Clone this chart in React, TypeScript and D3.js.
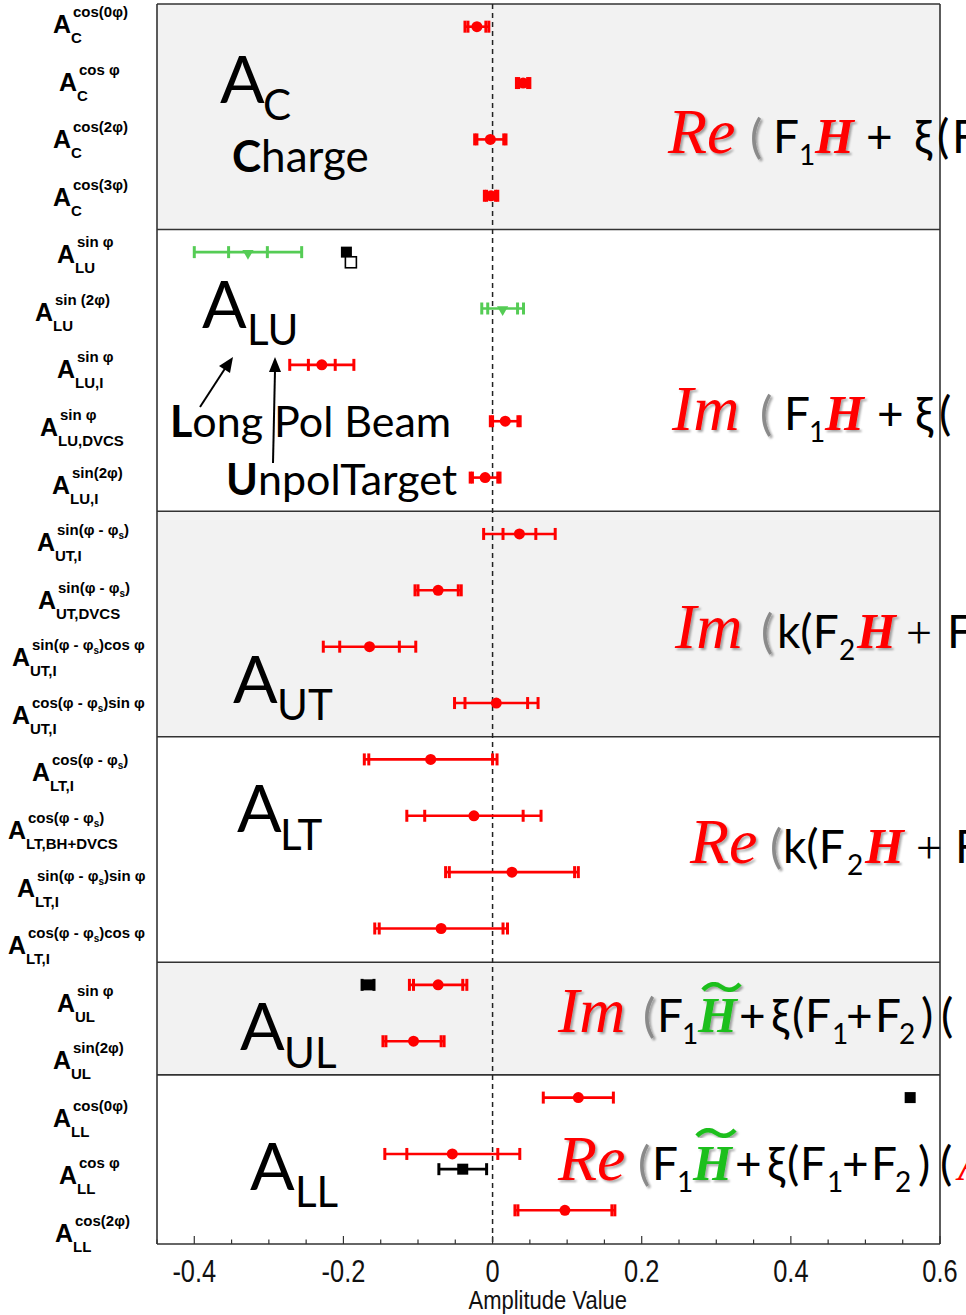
import React from 'react';
import * as d3 from 'd3';

// ---------- data ----------
const rowSup = [
  'cos(0φ)', 'cos φ', 'cos(2φ)', 'cos(3φ)',
  'sin φ', 'sin (2φ)', 'sin φ', 'sin φ', 'sin(2φ)',
  'sin(φ - φ_s)', 'sin(φ - φ_s)', 'sin(φ - φ_s)cos φ', 'cos(φ - φ_s)sin φ',
  'cos(φ - φ_s)', 'cos(φ - φ_s)', 'sin(φ - φ_s)sin φ', 'cos(φ - φ_s)cos φ',
  'sin φ', 'sin(2φ)',
  'cos(0φ)', 'cos φ', 'cos(2φ)',
];
const rowSub = [
  'C', 'C', 'C', 'C',
  'LU', 'LU', 'LU,I', 'LU,DVCS', 'LU,I',
  'UT,I', 'UT,DVCS', 'UT,I', 'UT,I',
  'LT,I', 'LT,BH+DVCS', 'LT,I', 'LT,I',
  'UL', 'UL',
  'LL', 'LL', 'LL',
];

const redRows = [0, 1, 2, 3, 6, 7, 8, 9, 10, 11, 12, 13, 14, 15, 16, 17, 18, 19, 20, 21];
const redValues = [-0.021, 0.041, -0.003, -0.002, -0.229, 0.017, -0.010, 0.036, -0.073, -0.165, 0.005, -0.083, -0.025, 0.026, -0.069, -0.073, -0.106, 0.115, -0.054, 0.097];
const redStat = [0.012, 0.006, 0.018, 0.006, 0.018, 0.017, 0.017, 0.022, 0.027, 0.040, 0.042, 0.083, 0.066, 0.084, 0.083, 0.033, 0.037, 0.047, 0.061, 0.063];
const redTotal = [0.016, 0.009, 0.021, 0.009, 0.043, 0.020, 0.020, 0.048, 0.031, 0.062, 0.056, 0.089, 0.090, 0.089, 0.089, 0.0385, 0.041, 0.047, 0.0905, 0.067];

const greenRows = [4, 5];
const greenValues = [-0.328, 0.0135];
const greenStat = [0.026, 0.020];
const greenTotal = [0.072, 0.028];

const blackRows = [4, 4.18, 17, 19, 20.27];
const blackValues = [-0.196, -0.19, -0.167, 0.56, -0.040];
const blackErr = [0, 0, 0.008, 0, 0.032];
const blackFilled = [true, false, true, true, true];

const xTicksMajor = [-0.4, -0.2, 0, 0.2, 0.4, 0.6];
const xTickLabels = ['-0.4', '-0.2', '0', '0.2', '0.4', '0.6'];

const panelEdges = [-0.5, 3.5, 8.5, 12.5, 16.5, 18.5, 21.5];
const panelShaded = [true, false, true, false, true, false];

// ---------- layout ----------
const W = 966, H = 1315;
const FL = 157, FR = 940, FT = 4, FB = 1244;
const labelAX = [53, 59, 53, 53, 57, 35, 57, 40, 52, 37, 38, 12, 12, 32, 8, 17, 8, 57, 53, 53, 59, 55];

const RED = '#ff0000';
const GREEN = '#55cc55';
const SANS = "Lato, 'Open Sans', sans-serif";
const SERIF = "'Liberation Serif', 'DejaVu Serif', serif";
const LAB = "'Liberation Sans', Arial, sans-serif";

type Piece = [string, string, number];
const formulas: { y: number; pieces: Piece[]; tilde?: [number, number, number] }[] = [
  { y: 153, pieces: [['script', 'Re', 668], ['paren', '(', 750], ['sans', 'F', 773], ['sub', '1', 799], ['H', 'H', 815], ['sans', '+', 866], ['sans', 'ξ', 914], ['sans', '(', 937], ['sans', 'F', 952]] },
  { y: 430, pieces: [['script', 'Im', 672], ['paren', '(', 760], ['sans', 'F', 784], ['sub', '1', 809], ['H', 'H', 825], ['sans', '+', 877], ['sans', 'ξ', 915], ['sans', '(', 939]] },
  { y: 648, pieces: [['script', 'Im', 675], ['paren', '(', 761], ['sans', 'k(F', 777], ['sub', '2', 839], ['H', 'H', 857], ['thin', '+', 906], ['sans', 'F', 947]] },
  { y: 863, pieces: [['script', 'Re', 690], ['paren', '(', 770], ['sans', 'k(F', 783], ['sub', '2', 847], ['H', 'H', 865], ['thin', '+', 916], ['sans', 'F', 955]] },
  { y: 1032, tilde: [703, 740, 987], pieces: [['script', 'Im', 558], ['paren', '(', 643], ['sans', 'F', 657], ['sub', '1', 682], ['Hg', 'H', 698], ['sans', '+', 739], ['sans', 'ξ', 771], ['sans', '(', 792], ['sans', 'F', 805], ['sub', '1', 832], ['sans', '+', 846], ['sans', 'F', 875], ['sub', '2', 899], ['sans', ')', 921], ['sans', '(', 941]] },
  { y: 1180, tilde: [697, 735, 1133], pieces: [['script', 'Re', 558], ['paren', '(', 638], ['sans', 'F', 652], ['sub', '1', 677], ['Hg', 'H', 693], ['sans', '+', 735], ['sans', 'ξ', 767], ['sans', '(', 787], ['sans', 'F', 800], ['sub', '1', 827], ['sans', '+', 842], ['sans', 'F', 871], ['sub', '2', 895], ['sans', ')', 918], ['sans', '(', 940], ['red', 'A', 958]] },
];

function pieceStyle(kind: string): any {
  switch (kind) {
    case 'script': return { fontFamily: SERIF, fontStyle: 'italic', fontSize: 64, fill: RED, filter: 'url(#sh)' };
    case 'paren': return { fontFamily: SANS, fontSize: 46, fill: '#8a8a8a', filter: 'url(#sh)' };
    case 'sans': return { fontFamily: SANS, fontSize: 46, fill: '#000' };
    case 'thin': return { fontFamily: SERIF, fontSize: 46, fill: '#000' };
    case 'sub': return { fontFamily: SANS, fontSize: 28, fill: '#000' };
    case 'H': return { fontFamily: SERIF, fontStyle: 'italic', fontWeight: 'bold', fontSize: 50, fill: RED, filter: 'url(#sh)' };
    case 'Hg': return { fontFamily: SERIF, fontStyle: 'italic', fontWeight: 'bold', fontSize: 50, fill: '#1fbf1f', filter: 'url(#sh)' };
    case 'red': return { fontFamily: SERIF, fontStyle: 'italic', fontSize: 46, fill: RED };
    default: return {};
  }
}

function SupText({ s }: { s: string }) {
  const parts = s.split('_s');
  const out: any[] = [];
  parts.forEach((p, i) => {
    out.push(<tspan key={'p' + i} dy={i > 0 ? -4 : 0}>{p}</tspan>);
    if (i < parts.length - 1) out.push(<tspan key={'s' + i} dy={4} fontSize={10}>s</tspan>);
  });
  return <>{out}</>;
}

function ErrBar({ x, v, stat, tot, cy, color }: any) {
  const caps = [v - tot, v + tot];
  if (stat > 0 && stat < tot) caps.push(v - stat, v + stat);
  return (
    <g stroke={color} strokeWidth={2.6}>
      <line x1={x(v - tot)} x2={x(v + tot)} y1={cy} y2={cy} />
      {caps.map((c, i) => (
        <line key={i} x1={x(c)} x2={x(c)} y1={cy - 6} y2={cy + 6} strokeWidth={3} />
      ))}
    </g>
  );
}

export default function App() {
  const x = d3.scaleLinear().domain([-0.45, 0.6]).range([FL, FR]);
  const y = d3.scaleLinear().domain([-0.5, 21.5]).range([FT, FB]);
  const shift = -5.5;
  const my = (r: number) => y(r) + shift;
  const labY = d3.scaleLinear().domain([0, 21]).range([33, 1242]);
  const minor = d3.range(-0.45, 0.6001, 0.05).filter(t => !xTicksMajor.some(m => Math.abs(m - t) < 1e-6));

  const bigLabels = [
    { a: 'A', s: 'C', ax: 220, ay: 103, sx: 263, sy: 120 },
    { a: 'A', s: 'LU', ax: 202, ay: 328, sx: 247, sy: 345 },
    { a: 'A', s: 'UT', ax: 233, ay: 703, sx: 277, sy: 720 },
    { a: 'A', s: 'LT', ax: 237, ay: 832, sx: 280, sy: 850 },
    { a: 'A', s: 'UL', ax: 240, ay: 1050, sx: 284, sy: 1068 },
    { a: 'A', s: 'LL', ax: 250, ay: 1190, sx: 295, sy: 1207 },
  ];

  return (
    <svg width={W} height={H} style={{ position: 'absolute', left: 0, top: 0, display: 'block', background: '#fff' }}>
      <defs>
        <filter id="sh" x="-20%" y="-20%" width="150%" height="150%">
          <feDropShadow dx="2" dy="2" stdDeviation="1.3" floodColor="#000" floodOpacity="0.35" />
        </filter>
      </defs>
      {/* panels */}
      {panelShaded.map((s, i) => (
        <rect key={i} x={FL} y={y(panelEdges[i])} width={FR - FL} height={y(panelEdges[i + 1]) - y(panelEdges[i])} fill={s ? '#f2f2f2' : '#fff'} />
      ))}
      {panelEdges.map((e, i) => (
        <line key={'pe' + i} x1={FL} x2={FR} y1={y(e)} y2={y(e)} stroke="#333" strokeWidth={1.6} />
      ))}
      <line x1={FL} x2={FL} y1={FT} y2={FB} stroke="#333" strokeWidth={1.6} />
      <line x1={FR} x2={FR} y1={FT} y2={FB} stroke="#333" strokeWidth={1.6} />

      {/* zero line */}
      <line x1={x(0)} x2={x(0)} y1={FT} y2={FB} stroke="#222" strokeWidth={1.5} strokeDasharray="5,4" />

      {/* ticks */}
      {xTicksMajor.map((t, i) => (
        <g key={'t' + i}>
          <line x1={x(t)} x2={x(t)} y1={FB} y2={FB - 8} stroke="#333" strokeWidth={1.2} />
          <text transform={`translate(${x(t)},${FB + 38}) scale(0.82,1)`} textAnchor="middle" fontFamily={LAB} fontSize={31} fill="#111">{xTickLabels[i]}</text>
        </g>
      ))}
      {minor.map((t, i) => (
        <line key={'m' + i} x1={x(t)} x2={x(t)} y1={FB} y2={FB - 4.5} stroke="#333" strokeWidth={1.2} />
      ))}
      <text transform={`translate(${x(0.074)},${FB + 65}) scale(0.88,1)`} textAnchor="middle" fontFamily={LAB} fontSize={25} fill="#111">Amplitude Value</text>

      {/* row labels */}
      {rowSub.map((sub, i) => (
        <g key={'l' + i} fontFamily={LAB} fontWeight="bold" fill="#000">
          <text x={labelAX[i]} y={labY(i)} fontSize={25}>A</text>
          <text x={labelAX[i] + 18} y={labY(i) + 10} fontSize={15}>{sub}</text>
          <text x={labelAX[i] + 20} y={labY(i) - 16} fontSize={15}><SupText s={rowSup[i]} /></text>
        </g>
      ))}

      {/* big panel labels */}
      {bigLabels.map((b, i) => (
        <g key={'b' + i} fontFamily={SANS} fill="#000">
          <text x={b.ax} y={b.ay} fontSize={66}>{b.a}</text>
          <text x={b.sx} y={b.sy} fontSize={42}>{b.s}</text>
        </g>
      ))}
      <text x={232} y={172} fontFamily={SANS} fontSize={44}><tspan fontWeight="bold">C</tspan>harge</text>
      <text x={170} y={437} fontFamily={SANS} fontSize={43}><tspan fontWeight="bold">L</tspan>ong Pol Beam</text>
      <text x={226} y={495} fontFamily={SANS} fontSize={43}><tspan fontWeight="bold">U</tspan>npolTarget</text>
      {/* arrows */}
      <line x1={200} y1={407} x2={226} y2={367} stroke="#000" strokeWidth={2} />
      <polygon points="233,357 219,366 230,373" fill="#000" />
      <line x1={273} y1={463} x2={275} y2={370} stroke="#000" strokeWidth={2} />
      <polygon points="275,357 269,372 281,372" fill="#000" />

      {/* formulas */}
      {formulas.map((f, fi) => (
        <g key={'f' + fi}>
          {f.pieces.map(([k, t, px], pi) => (
            <text key={pi} x={px} y={k === 'sub' ? f.y + 12 : f.y} style={pieceStyle(k)}>{t}</text>
          ))}
          {f.tilde && (
            <path d={`M${f.tilde[0]},${f.tilde[2] + 3} Q${f.tilde[0] + (f.tilde[1] - f.tilde[0]) * 0.25},${f.tilde[2] - 7} ${(f.tilde[0] + f.tilde[1]) / 2},${f.tilde[2]} T${f.tilde[1]},${f.tilde[2] - 3}`}
              fill="none" stroke="#1fbf1f" strokeWidth={4.5} filter="url(#sh)" />
          )}
        </g>
      ))}

      {/* green series */}
      {greenRows.map((r, i) => (
        <g key={'g' + i}>
          <ErrBar x={x} v={greenValues[i]} stat={greenStat[i]} tot={greenTotal[i]} cy={my(r)} color={GREEN} />
          <path d={d3.symbol().type(d3.symbolTriangle).size(55)() || ''} transform={`translate(${x(greenValues[i])},${my(r) + 1}) rotate(180)`} fill={GREEN} />
        </g>
      ))}

      {/* red series */}
      {redRows.map((r, i) => (
        <g key={'r' + i}>
          <ErrBar x={x} v={redValues[i]} stat={redStat[i]} tot={redTotal[i]} cy={my(r)} color={RED} />
          <circle cx={x(redValues[i])} cy={my(r)} r={5.5} fill={RED} />
        </g>
      ))}

      {/* black series */}
      {blackRows.map((r, i) => (
        <g key={'k' + i}>
          {blackErr[i] > 0 && <ErrBar x={x} v={blackValues[i]} stat={0} tot={blackErr[i]} cy={my(r)} color="#000" />}
          <rect x={x(blackValues[i]) - 5.5} y={my(r) - 5.5} width={11} height={11}
            fill={blackFilled[i] ? '#000' : '#fff'} stroke="#000" strokeWidth={blackFilled[i] ? 0 : 1.6} />
        </g>
      ))}
    </svg>
  );
}
